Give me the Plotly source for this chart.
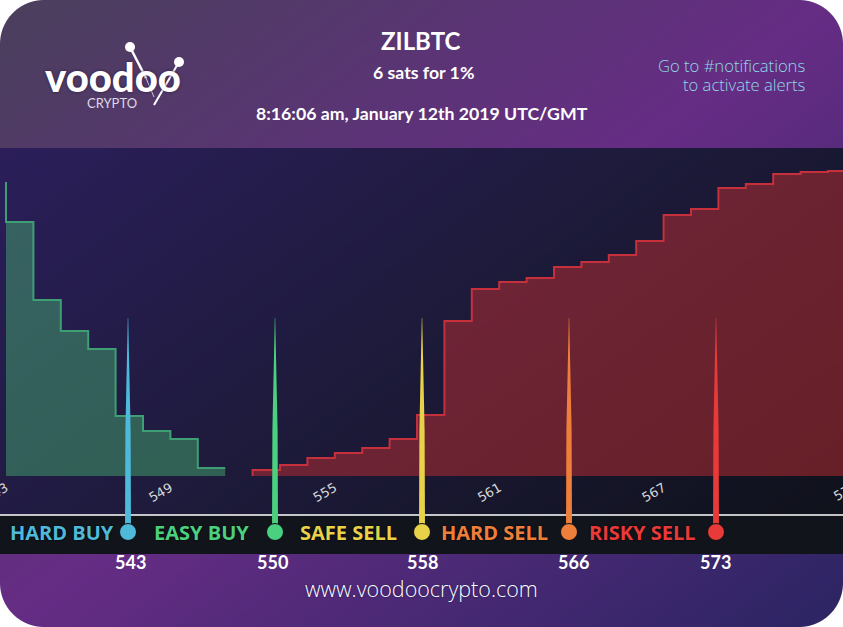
"""
plot.py - ZILBTC order book depth card (voodoo crypto alert image).
"""

import base64
import struct
import zlib

import numpy as np
import plotly.graph_objects as go

W, H = 843, 627

# Depth steps, one per price unit (height in px above the baseline)
BUY_PRICES = [543, 543, 544, 545, 546, 547, 548, 549, 550, 551]
BUY_DEPTH = [294, 254, 176, 145, 127, 60, 45, 37, 8, 8]
SELL_PRICES = [552, 552, 553, 554, 555, 556, 557, 558, 559, 560, 561, 562, 563, 564,
               565, 566, 567, 568, 569, 570, 571, 572, 573, 574]
SELL_DEPTH = [0, 6, 11, 18, 23, 28, 37, 61, 155, 187, 194, 198, 209, 214,
              221, 235, 261, 267, 288, 292, 302, 304, 305, 305]
TICK_PRICES = [543, 549, 555, 561, 567]

# The pins sit evenly spaced, they are not on the price axis
PIN_NAMES = ["HARD BUY", "EASY BUY", "SAFE SELL", "HARD SELL", "RISKY SELL"]
PIN_PRICES = [543, 550, 558, 566, 573]
PIN_COLORS = ["#4fb9d9", "#4bd07f", "#e8d24a", "#ee7f3a", "#e93a3a"]
PIN_NAME_X = [62, 201, 348, 494, 642]
PIN_LABEL_SHIFT = [2, -3, 0, 4, -1]

PIN_SPACING = 147
PIN_FIRST = 128
PX_PER_PRICE = 27.4
PRICE_AT_LEFT = 543 - 6 / PX_PER_PRICE


def fx(x):
    return x / W


def fy(y):
    return 1 - y / H


def lerp_stops(t, stops):
    out = np.zeros(t.shape + (3,))
    pos = [s[0] for s in stops]
    for c in range(3):
        out[..., c] = np.interp(t, pos, [s[1][c] for s in stops])
    return out


def background_png():
    # Plotly has no diagonal gradients, so the card is baked into a small PNG
    ys, xs = np.mgrid[0:H, 0:W]
    t = (xs / W + ys / H) / 2
    rgb = lerp_stops(t, [(0, (74, 64, 92)), (0.5, (102, 45, 133)), (1, (43, 37, 99))])

    panel = lerp_stops(t, [(0.1, (44, 31, 92)), (0.5, (30, 27, 60)), (0.9, (16, 18, 28))])
    inside = (ys >= 148) & (ys < 515)
    rgb[inside] = panel[inside]

    r = 44
    dx = np.maximum(np.maximum(r - xs - 0.5, xs + 0.5 - (W - r)), 0)
    dy = np.maximum(np.maximum(r - ys - 0.5, ys + 0.5 - (H - r)), 0)
    alpha = np.clip(r + 0.5 - np.hypot(dx, dy), 0, 1) * 255

    img = np.dstack([rgb, alpha]).astype(np.uint8)
    raw = b"".join(b"\x00" + img[i].tobytes() for i in range(H))

    def chunk(tag, data):
        return struct.pack(">I", len(data)) + tag + data + struct.pack(">I", zlib.crc32(tag + data))

    png = (b"\x89PNG\r\n\x1a\n"
           + chunk(b"IHDR", struct.pack(">IIBBBBB", W, H, 8, 6, 0, 0, 0))
           + chunk(b"IDAT", zlib.compress(raw, 9))
           + chunk(b"IEND", b""))
    return "data:image/png;base64," + base64.b64encode(png).decode()


fig = go.Figure()

fig.add_trace(go.Scatter(
    x=BUY_PRICES, y=BUY_DEPTH, mode="lines", line=dict(shape="hv", color="#3f9f74", width=2),
    fill="tozeroy", fillcolor="rgba(78,200,120,0.40)", hoverinfo="skip",
))
fig.add_trace(go.Scatter(
    x=SELL_PRICES, y=SELL_DEPTH, mode="lines", line=dict(shape="hv", color="#c5303c", width=2),
    fill="tozeroy", fillcolor="rgba(190,45,50,0.50)", hoverinfo="skip",
))

# pin needles: thin tip widening towards the dot
needle_y = [318, 340, 360, 380, 400, 430, 532]
needle_w = [0.2, 0.6, 1.0, 1.5, 2.0, 2.6, 3.0]
for i, color in enumerate(PIN_COLORS):
    px = [i - w / PIN_SPACING for w in needle_w] + [i + w / PIN_SPACING for w in reversed(needle_w)]
    fig.add_trace(go.Scatter(
        x=px, y=needle_y + needle_y[::-1], xaxis="x2", yaxis="y2", mode="lines",
        line=dict(width=0), fill="toself", fillcolor=color, hoverinfo="skip",
    ))

fig.add_trace(go.Scatter(
    x=list(range(len(PIN_PRICES))), y=[532] * len(PIN_PRICES), xaxis="x2", yaxis="y2",
    mode="markers", marker=dict(size=17, color=PIN_COLORS, line=dict(width=1, color="#0d0f15")),
    text=PIN_NAMES, hoverinfo="text",
))

annotations = []


def label(x, y, text, size, color="white", family="Lato", weight=400, xanchor="center", shadow="none", **kw):
    annotations.append(dict(
        xref="paper", yref="paper", x=fx(x), y=fy(y), text=text, showarrow=False,
        xanchor=xanchor, yanchor="middle",
        font=dict(family=family, size=size, color=color, weight=weight, shadow=shadow), **kw,
    ))


label(421, 41, "ZILBTC", 24, weight=700)
label(423, 73, "6 sats for 1%", 17.7, weight=700)
label(422, 113, "8:16:06 am, January 12th 2019 UTC/GMT", 17.7, weight=700)
label(807, 65, "Go to #notifications", 16.6, color="#8fd9e6", family="Open Sans", weight=300, xanchor="right")
label(807, 85, "to activate alerts", 16.6, color="#8fd9e6", family="Open Sans", weight=300, xanchor="right")
label(421, 588, "www.voodoocrypto.com", 21.5, family="Open Sans", weight=300, shadow="0 0 2px #1c1458")

# logo
label(113, 77, "voodoo", 40, family="Lato", weight=900, shadow="0 0 3px #2a1a40")
label(112, 103, "CRYPTO", 13, color="#ddd8e6")

# clipped tick label past the right edge of the price axis
label(845, 491, "574", 13, color="#d8d8d8", family="DejaVu Sans", textangle=-30)

for name, x, color in zip(PIN_NAMES, PIN_NAME_X, PIN_COLORS):
    label(x, 532, name, 20, color=color, family="Open Sans", weight=700, shadow="0 0 2px #000")

for i, (price, shift) in enumerate(zip(PIN_PRICES, PIN_LABEL_SHIFT)):
    annotations.append(dict(
        xref="x2", yref="y2", x=i, y=562, text=str(price), showarrow=False, xshift=shift,
        xanchor="center", yanchor="middle",
        font=dict(family="Lato", size=18, color="white", weight=700),
    ))

shapes = [
    dict(type="rect", xref="paper", yref="paper", x0=0, x1=1, y0=fy(554), y1=fy(515),
         fillcolor="#11141b", line=dict(width=0), layer="below"),
    dict(type="line", xref="paper", yref="paper", x0=0, x1=1, y0=fy(515), y1=fy(515),
         line=dict(color="white", width=1.5), layer="below"),
    dict(type="line", xref="paper", yref="paper", x0=fx(130), x1=fx(146), y0=fy(47), y1=fy(78),
         line=dict(color="white", width=2.5)),
    dict(type="line", xref="paper", yref="paper", x0=fx(146), x1=fx(154), y0=fy(78), y1=fy(97),
         line=dict(color="#cfc6da", width=1)),
    dict(type="line", xref="paper", yref="paper", x0=fx(179), x1=fx(154), y0=fy(62), y1=fy(105),
         line=dict(color="white", width=2)),
    dict(type="circle", xref="paper", yref="paper", x0=fx(125), x1=fx(135), y0=fy(52), y1=fy(42),
         fillcolor="white", line=dict(width=0)),
    dict(type="circle", xref="paper", yref="paper", x0=fx(174), x1=fx(184), y0=fy(67), y1=fy(57),
         fillcolor="white", line=dict(width=0)),
]

fig.update_layout(
    width=W,
    height=H,
    margin=dict(l=0, r=0, t=0, b=0, autoexpand=False),
    paper_bgcolor="white",
    plot_bgcolor="rgba(0,0,0,0)",
    showlegend=False,
    images=[dict(source=background_png(), xref="paper", yref="paper", x=0, y=1,
                 sizex=1, sizey=1, sizing="stretch", xanchor="left", yanchor="top", layer="below")],
    shapes=shapes,
    annotations=annotations,
    xaxis=dict(
        domain=[0, 1],
        range=[PRICE_AT_LEFT, PRICE_AT_LEFT + W / PX_PER_PRICE],
        tickmode="array",
        tickvals=TICK_PRICES,
        ticktext=[str(p) for p in TICK_PRICES],
        tickangle=-30,
        ticks="",
        ticklabeloverflow="allow",
        ticklabelstandoff=1,
        tickfont=dict(family="DejaVu Sans", size=13, color="#d8d8d8"),
        showgrid=False,
        zeroline=False,
        showline=False,
    ),
    yaxis=dict(
        domain=[fy(476), fy(148)],
        range=[0, 328],
        visible=False,
    ),
    xaxis2=dict(
        domain=[0, 1],
        range=[-PIN_FIRST / PIN_SPACING, (W - PIN_FIRST) / PIN_SPACING],
        anchor="y2",
        visible=False,
    ),
    yaxis2=dict(
        domain=[0, 1],
        range=[H, 0],
        anchor="x2",
        visible=False,
    ),
)

# body margin would push the fixed size card off the page
fig.write_html("out.html", config=dict(displayModeBar=False), post_script="document.body.style.margin='0';")
